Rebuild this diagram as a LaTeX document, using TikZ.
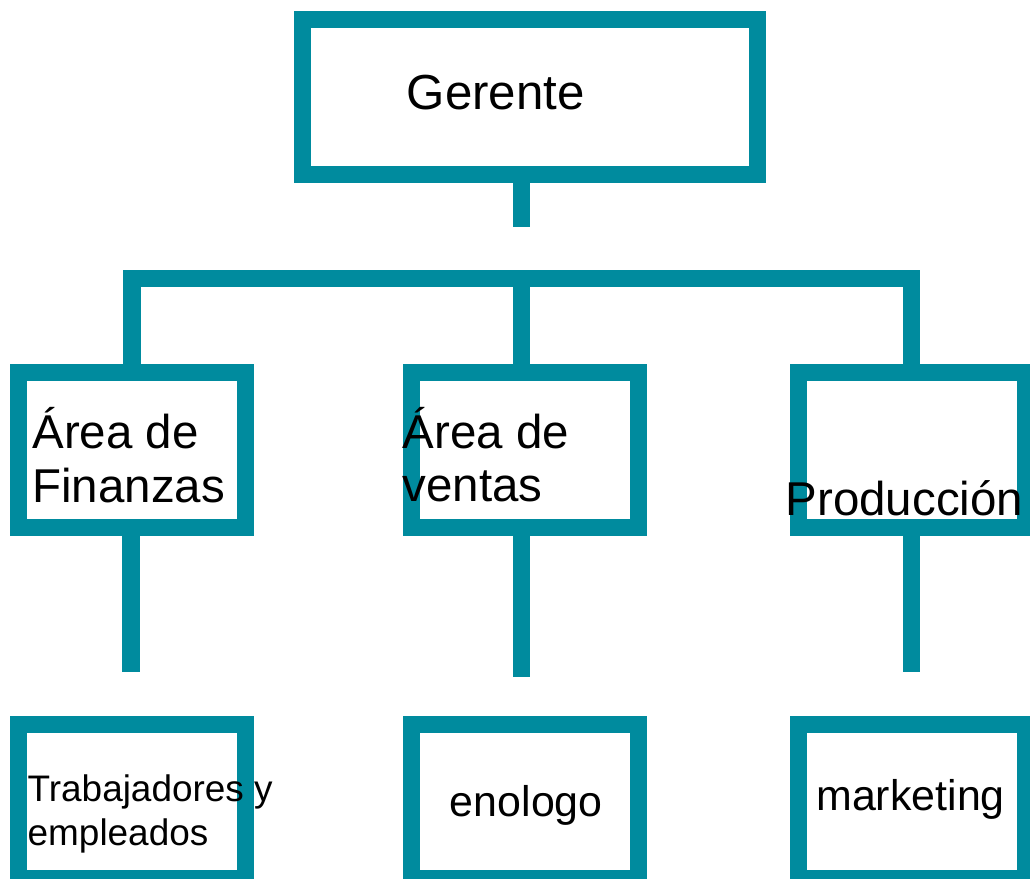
\documentclass[tikz,border=0pt]{standalone}
\usepackage{fontspec}
\setmainfont{Liberation Sans}
\usetikzlibrary{positioning,calc}
\definecolor{orgteal}{RGB}{0,139,158}

\begin{document}
\begin{tikzpicture}[x=0.01cm, y=-0.01cm,
    box/.style={draw=orgteal, line width=0.17cm, minimum width=2.27cm, minimum height=1.545cm, inner sep=0pt},
    link/.style={draw=orgteal, line width=0.17cm},
    lbl/.style={anchor=base west, inner sep=0pt, align=left, font=\fontsize{13.5}{15.1}\selectfont},
    small/.style={lbl, font=\fontsize{12.2}{14}\selectfont}]
    \useasboundingbox (0,0) rectangle (1030,879);

      \node[box, minimum width=4.545cm, minimum height=1.55cm] (g) at (529.75,97) {};

      \node[box] (a1) at (132,450.25) {};
      \node[box, right=1.49cm of a1] (a2) {};
      \node[box, right=1.425cm of a2] (a3) {};

      \node[box, below=1.795cm of a1] (b1) {};
      \node[box, below=1.795cm of a2] (b2) {};
      \node[box, below=1.795cm of a3] (b3) {};

      \coordinate (e0) at ($(g.south)+(-8.25,44)$);
      \coordinate (c1) at ($(a2.north)+(-3.5,-86)$);
      \coordinate (e1) at ($(a1.south)+(-1,135.5)$);
      \coordinate (e2) at ($(a2.south)+(-3.5,141)$);
      \coordinate (e3) at ($(a3.south)+(0,135.5)$);

      \draw[link] (g.south -| e0) -- (e0);
      \draw[link] (a1.north) |- (c1) -| (a3.north);
      \draw[link] (c1) -- (c1 |- a2.north);
      \draw[link] (a1.south -| e1) -- (e1);
      \draw[link] (a2.south -| e2) -- (e2);
      \draw[link] (a3.south) -- (e3);

      \node[lbl, font=\fontsize{14}{17}\selectfont] (l0) at ($(g)+(-123.75,13)$) {Gerente};
      \node[lbl] (l1) at ($(a1)+(-100.3,51.75)$) {Área de\\Finanzas};
      \node[lbl] (l2) at ($(a2)+(-123.3,51.45)$) {Área de\\ventas};
      \node[lbl] (l3) at ($(a3)+(-127,64.75)$) {Producción};
      \node[small, font=\fontsize{10.5}{12.3}\selectfont] (l4) at ($(b1)+(-105,43.75)$) {Trabajadores y\\empleados};
      \node[small] (l5) at ($(b2)+(-76,14.75)$) {enologo};
      \node[small] (l6) at ($(b3)+(-96.3,8.75)$) {marketing};
\end{tikzpicture}
\end{document}
